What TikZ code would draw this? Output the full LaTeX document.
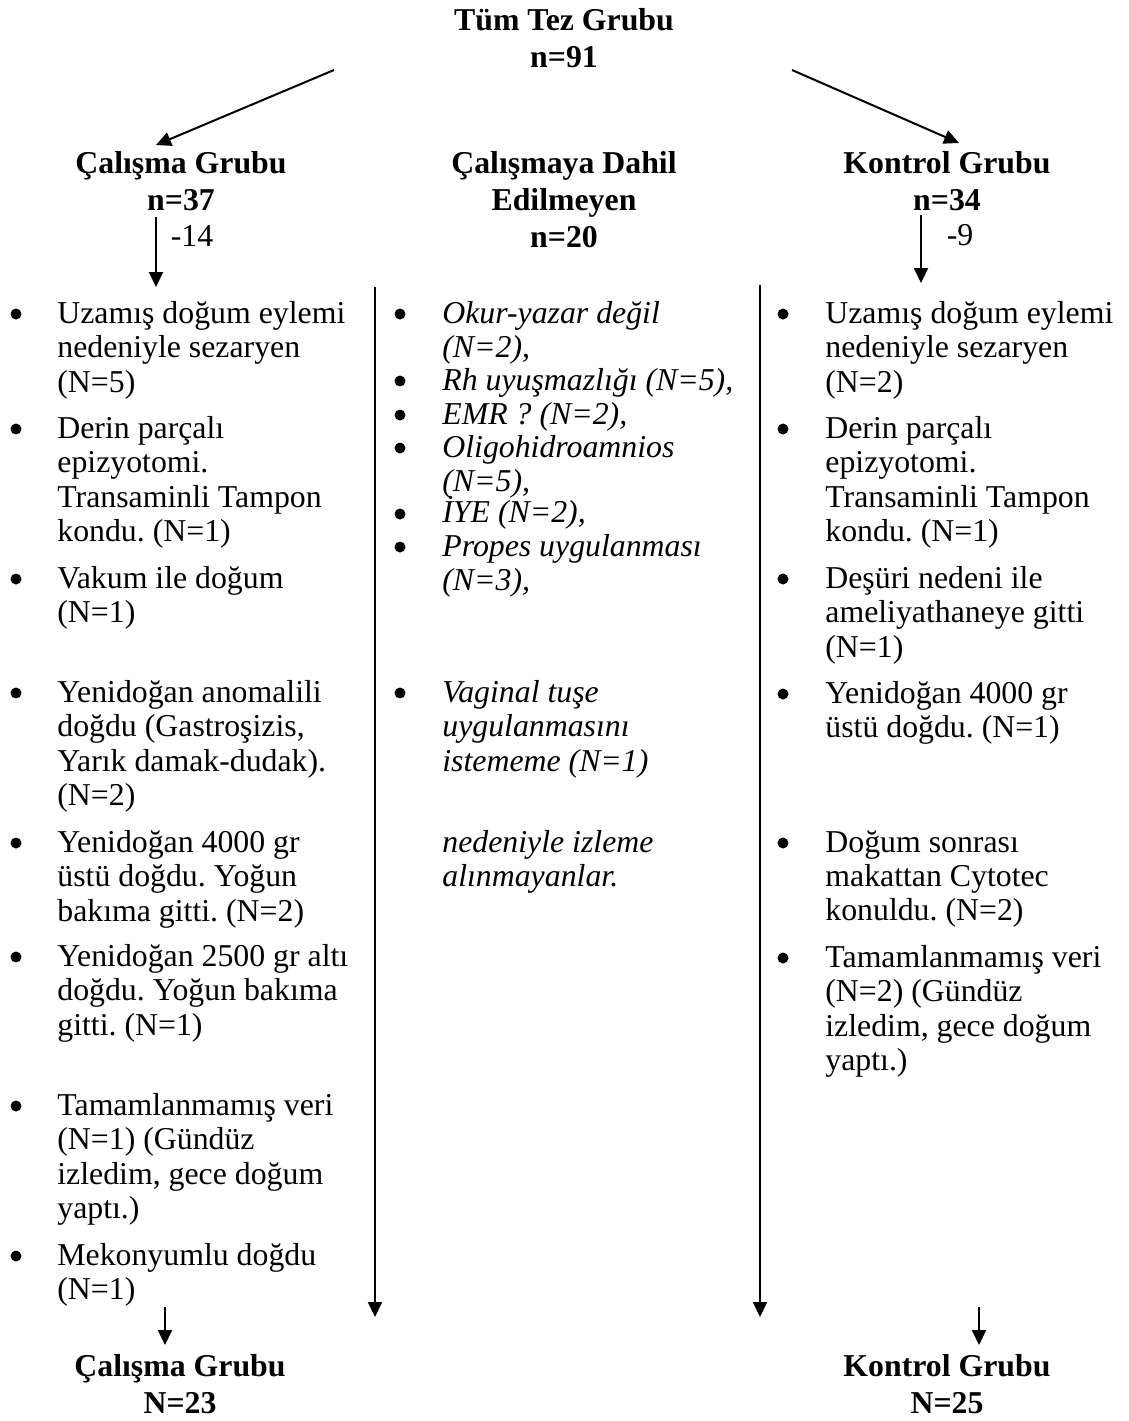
\documentclass[tikz,border=0pt]{standalone}
\usepackage{fontspec}
\setmainfont{Liberation Serif}
\usetikzlibrary{arrows.meta}
\frenchspacing

\tikzset{
  yazi/.style={font=\fontsize{15.9}{17.2}\selectfont, align=left, anchor=north west, inner sep=0pt, yshift=11pt},
  egik/.style={yazi, font=\fontsize{15.9}{17.2}\selectfont\itshape},
  sayi/.style={font=\fontsize{15.9}{17.2}\selectfont, anchor=base, inner sep=0pt},
  baslik/.style={font=\fontsize{15.9}{18.5}\selectfont\bfseries, align=center, anchor=north, inner sep=0pt, yshift=11pt},
  madde/.style={circle, fill, inner sep=0pt, minimum size=5.5pt},
  ok/.style={line width=1pt, -{Triangle[length=7.5pt,width=7pt]}}
}

\begin{document}
\begin{tikzpicture}[x=0.5pt, y=-0.5pt]
\useasboundingbox (0,0) rectangle (1129,1421);

\node[baslik] (tum) at (564,30) {Tüm Tez Grubu\\n=91};
\node[baslik] (calisma) at (181,173) {Çalışma Grubu\\n=37};
\node[baslik] (dahil) at (564,173) {Çalışmaya Dahil\\Edilmeyen\\n=20};
\node[baslik] (kontrol) at (947,173) {Kontrol Grubu\\n=34};
\node[sayi] (eksi14) at (192,246) {-14};
\node[sayi] (eksi9) at (960,245) {-9};

\coordinate (tumsol) at (334,70);
\coordinate (tumsag) at (792,70);
\coordinate (calust) at (156,145);
\coordinate (konust) at (959,143);
\coordinate (calalt) at (156,217);
\coordinate (calliste) at (156,287);
\coordinate (konalt) at (921,215);
\coordinate (konliste) at (921,283);
\coordinate (cizgi1ust) at (375,287);
\coordinate (cizgi1alt) at (375,1317);
\coordinate (cizgi2ust) at (760,285);
\coordinate (cizgi2alt) at (760,1317);
\coordinate (sonsol1) at (165,1307);
\coordinate (sonsol2) at (165,1345);
\coordinate (sonsag1) at (979,1307);
\coordinate (sonsag2) at (979,1345);

\draw[ok] (tumsol) -- (calust);
\draw[ok] (tumsag) -- (konust);
\draw[ok] (calalt) -- (calliste);
\draw[ok] (konalt) -- (konliste);
\draw[ok] (cizgi1ust) -- (cizgi1alt);
\draw[ok] (cizgi2ust) -- (cizgi2alt);
\draw[ok] (sonsol1) -- (sonsol2);
\draw[ok] (sonsag1) -- (sonsag2);

\node[yazi] (s1) at (57,323) {Uzamış doğum eylemi\\nedeniyle sezaryen\\(N=5)};
\node[yazi] (s2) at (57,438) {Derin parçalı\\epizyotomi.\\Transaminli Tampon\\kondu. (N=1)};
\node[yazi] (s3) at (57,588) {Vakum ile doğum\\(N=1)};
\node[yazi] (s4) at (57,702) {Yenidoğan anomalili\\doğdu (Gastroşizis,\\Yarık damak-dudak).\\(N=2)};
\node[yazi] (s5) at (57,852) {Yenidoğan 4000 gr\\üstü doğdu. Yoğun\\bakıma gitti. (N=2)};
\node[yazi] (s6) at (57,966) {Yenidoğan 2500 gr altı\\doğdu. Yoğun bakıma\\gitti. (N=1)};
\node[yazi] (s7) at (57,1115) {Tamamlanmamış veri\\(N=1) (Gündüz\\izledim, gece doğum\\yaptı.)};
\node[yazi] (s8) at (57,1265) {Mekonyumlu doğdu\\(N=1)};

\node[egik] (o1) at (442,323) {Okur-yazar değil\\(N=2),};
\node[egik] (o2) at (442,390) {Rh uyuşmazlığı (N=5),};
\node[egik] (o3) at (442,424) {EMR ? (N=2),};
\node[egik] (o4) at (442,457) {Oligohidroamnios\\(N=5),};
\node[egik, yshift=2.5pt] (o5) at (442,523) {İYE (N=2),};
\node[egik] (o6) at (442,556) {Propes uygulanması\\(N=3),};
\node[egik] (o7) at (442,702) {Vaginal tuşe\\uygulanmasını\\istememe (N=1)};
\node[egik] (o8) at (442,852) {nedeniyle izleme\\alınmayanlar.};

\node[yazi] (k1) at (825,323) {Uzamış doğum eylemi\\nedeniyle sezaryen\\(N=2)};
\node[yazi] (k2) at (825,438) {Derin parçalı\\epizyotomi.\\Transaminli Tampon\\kondu. (N=1)};
\node[yazi] (k3) at (825,588) {Deşüri nedeni ile\\ameliyathaneye gitti\\(N=1)};
\node[yazi] (k4) at (825,703) {Yenidoğan 4000 gr\\üstü doğdu. (N=1)};
\node[yazi] (k5) at (825,852) {Doğum sonrası\\makattan Cytotec\\konuldu. (N=2)};
\node[yazi] (k6) at (825,967) {Tamamlanmamış veri\\(N=2) (Gündüz\\izledim, gece doğum\\yaptı.)};

\foreach \by [count=\i] in {323,438,588,702,852,966,1115,1265}
  \node[madde] (sm\i) at (16,\by-9) {};
\foreach \by [count=\i] in {323,390,424,457,523,556,702}
  \node[madde] (om\i) at (400,\by-9) {};
\foreach \by [count=\i] in {323,438,588,703,852,967}
  \node[madde] (km\i) at (783,\by-9) {};

\node[baslik] (calismason) at (180,1376) {Çalışma Grubu\\N=23};
\node[baslik] (kontrolson) at (947,1376) {Kontrol Grubu\\N=25};
\end{tikzpicture}
\end{document}
